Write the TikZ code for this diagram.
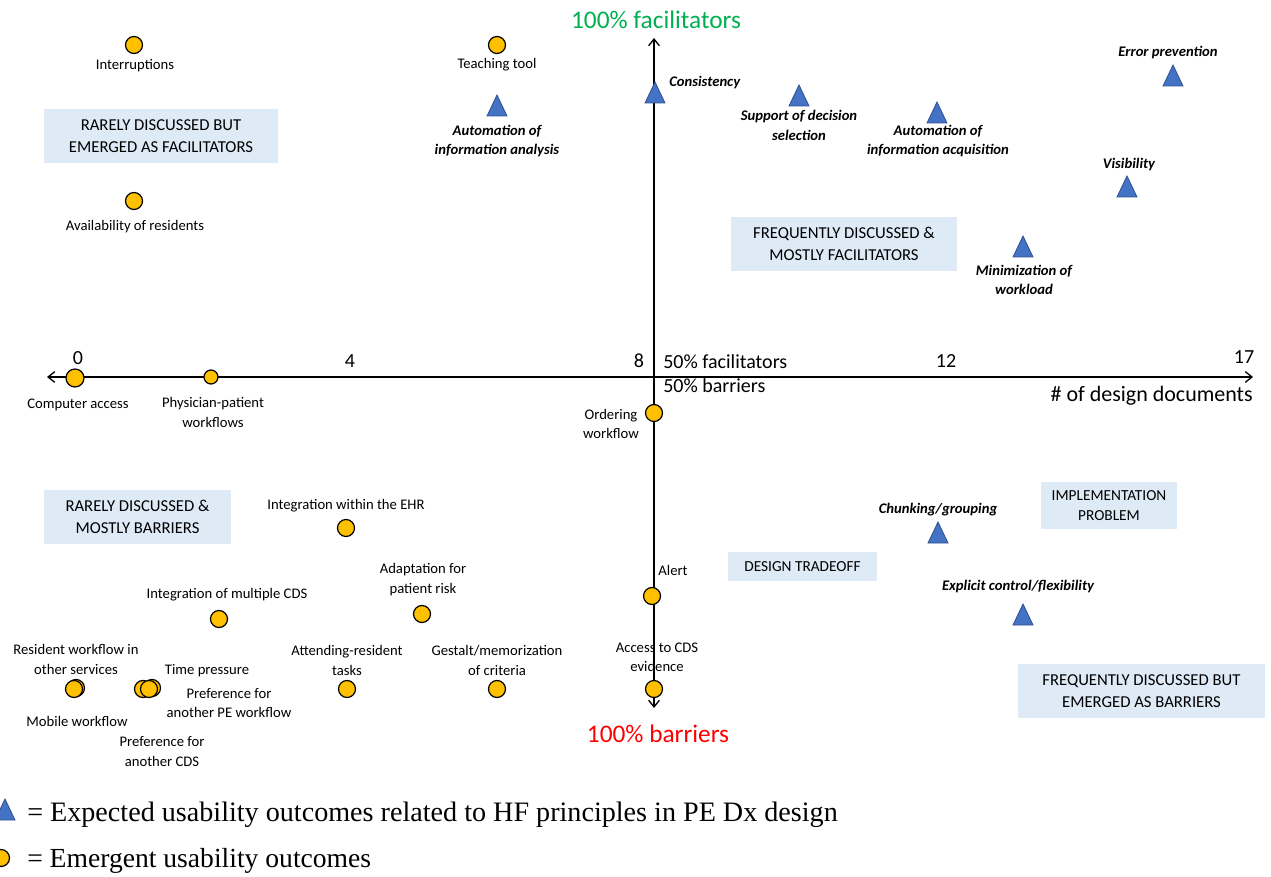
\documentclass[tikz,border=0pt]{standalone}
\usepackage{fontspec}
\setmainfont{Carlito}
\newfontfamily\legfont{Liberation Serif}
\usetikzlibrary{arrows.meta}
\definecolor{dotor}{HTML}{FFC000}
\definecolor{triblue}{HTML}{4472C4}
\definecolor{triedge}{HTML}{2F528F}
\definecolor{boxblue}{HTML}{DEEBF7}
\definecolor{facgreen}{HTML}{00B050}
\definecolor{barred}{HTML}{FF0000}
\begin{document}
\begin{tikzpicture}[x=0.75pt,y=-0.75pt,
  lbl/.style={font=\fontsize{11}{14.5}\selectfont, align=center, inner sep=0pt},
  blbl/.style={font=\fontsize{11}{14.5}\selectfont\bfseries\itshape, align=center, inner sep=0pt},
  qbox/.style={fill=boxblue, font=\fontsize{12.5}{16.5}\selectfont, align=center, inner sep=0pt},
  sbox/.style={fill=boxblue, font=\fontsize{11.5}{15}\selectfont, align=center, inner sep=0pt},
  tick/.style={font=\fontsize{15}{18}\selectfont, inner sep=0pt},
  dot/.style={circle, draw=black, fill=dotor, line width=0.9pt, minimum size=12.75pt, inner sep=0pt},
  sdot/.style={dot, minimum size=10.5pt},
  axis/.style={line width=1pt, {Straight Barb[length=5pt,width=8pt]}-{Straight Barb[length=5pt,width=8pt]}},
  tri/.pic={\draw[fill=triblue, draw=triedge, line width=0.6pt] (-10,10) -- (0,-11) -- (10,10) -- cycle;},
  legend/.style={font=\legfont\fontsize{20.7}{24}\selectfont, inner sep=0pt, anchor=west}
]
\useasboundingbox (0,0) rectangle (1271,877);

% quadrant boxes
\node[qbox, minimum width=175.5pt, minimum height=40.5pt] (b1) at (161,136) {RARELY DISCUSSED BUT\\EMERGED AS FACILITATORS};
\node[qbox, minimum width=169.5pt, minimum height=40.5pt] (b2) at (844,244) {FREQUENTLY DISCUSSED \&\\MOSTLY FACILITATORS};
\node[qbox, minimum width=140.25pt, minimum height=40.5pt] (b3) at (137.5,517) {RARELY DISCUSSED \&\\MOSTLY BARRIERS};
\node[sbox, minimum width=111.75pt, minimum height=21.75pt] (b4) at (802.5,566.5) {DESIGN TRADEOFF};
\node[sbox, minimum width=102pt, minimum height=35.25pt] (b5) at (1109,505.5) {IMPLEMENTATION\\PROBLEM};
\node[qbox, minimum width=185.25pt, minimum height=40.5pt] (b6) at (1141.5,691) {FREQUENTLY DISCUSSED BUT\\EMERGED AS BARRIERS};

% axes
\coordinate (xl) at (47,377);
\coordinate (xr) at (1253,377);
\coordinate (yt) at (654,38);
\coordinate (yb) at (654,708);
\draw[axis] (xl) -- (xr);
\draw[axis] (yb) -- (yt);

% axis labels
\node[tick] (t0) at (78,358) {0};
\node[tick] (t4) at (350,361) {4};
\node[tick] (t8) at (639,361) {8};
\node[tick] (t12) at (946,361) {12};
\node[tick] (t17) at (1244,357) {17};
\node[tick, anchor=west] (f50) at (663,362) {50\% facilitators};
\node[tick, anchor=west] (b50) at (663,386) {50\% barriers};
\node[font=\fontsize{16.5}{20}\selectfont, inner sep=0pt, anchor=east] (xlab) at (1253,396) {\# of design documents};
\node[font=\fontsize{19}{22}\selectfont, text=facgreen, inner sep=0pt] (ftop) at (656,20) {100\% facilitators};
\node[font=\fontsize{19}{22}\selectfont, text=barred, inner sep=0pt] (bbot) at (658,734) {100\% barriers};

% emergent outcomes (circles)
\node[dot] (c1) at (134,45) {};
\node[lbl] (l1) at (135,66) {Interruptions};
\node[dot] (c2) at (134,201) {};
\node[lbl] (l2) at (135,227) {Availability of residents};
\node[dot] (c3) at (497,45) {};
\node[lbl] (l3) at (497,65) {Teaching tool};
\node[dot, minimum size=13.5pt] (c4) at (75,378) {};
\node[lbl] (l4) at (78,405) {Computer access};
\node[sdot] (c5) at (211,377) {};
\node[lbl] (l5) at (213,412.5) {Physician-patient\\workflows};
\node[dot] (c6) at (654,413) {};
\node[lbl] (l6) at (611,424) {Ordering\\workflow};
\node[dot] (c7) at (346,528) {};
\node[lbl] (l7) at (346,506) {Integration within the EHR};
\node[dot] (c8) at (422,614) {};
\node[lbl] (l8) at (423,579.5) {Adaptation for\\patient risk};
\node[dot] (c9) at (219,619) {};
\node[lbl] (l9) at (227,595) {Integration of multiple CDS};
\node[dot] (c10) at (652,596) {};
\node[lbl] (l10) at (673,570) {Alert};
\node[dot] (c11) at (654,689) {};
\node[lbl] (l11) at (657,657.5) {Access to CDS\\evidence};
\node[dot] (c12) at (497,689) {};
\node[lbl] (l12) at (497,660.5) {Gestalt/memorization\\of criteria};
\node[dot] (c13) at (347,689) {};
\node[lbl] (l13) at (347,660.5) {Attending-resident\\tasks};
\node[dot] (c14a) at (76,688) {};
\node[dot] (c14) at (74,689) {};
\node[lbl] (l14) at (76,659.5) {Resident workflow in\\other services};
\node[lbl] (l15) at (77,721) {Mobile workflow};
\node[dot] (c16a) at (152,688) {};
\node[dot] (c16b) at (143,689) {};
\node[dot] (c16) at (149,689) {};
\node[lbl] (l16) at (207,671) {Time pressure};
\node[lbl] (l17) at (229,703) {Preference for\\another PE workflow};
\node[lbl] (l18) at (162,751.5) {Preference for\\another CDS};

% expected outcomes (triangles)
\pic at (497,106) {tri};
\node[blbl] (m1) at (497,141) {Automation of\\information analysis};
\pic at (655,93) {tri};
\node[blbl, anchor=west] (m2) at (669,83) {Consistency};
\pic at (799,96) {tri};
\node[blbl] (m3) at (799,125.5) {Support of decision\\selection};
\pic at (937,113) {tri};
\node[blbl] (m4) at (938,141) {Automation of\\information acquisition};
\pic at (1173,76) {tri};
\node[blbl] (m5) at (1168,53) {Error prevention};
\pic at (1127,187) {tri};
\node[blbl] (m6) at (1129,165) {Visibility};
\pic at (1023,247) {tri};
\node[blbl] (m7) at (1024,280) {Minimization of\\workload};
\pic at (938,533) {tri};
\node[blbl] (m8) at (938,510) {Chunking/grouping};
\pic at (1023,615) {tri};
\node[blbl] (m9) at (1018,587) {Explicit control/flexibility};

% legend
\pic at (5,810) {tri};
\node[legend, font=\legfont\fontsize{21.1}{24}\selectfont] (g1) at (27,815) {= Expected usability outcomes related to HF principles in PE Dx design};
\node[dot] (g2c) at (1,858) {};
\node[legend] (g2) at (27,861) {= Emergent usability outcomes};
\end{tikzpicture}
\end{document}
